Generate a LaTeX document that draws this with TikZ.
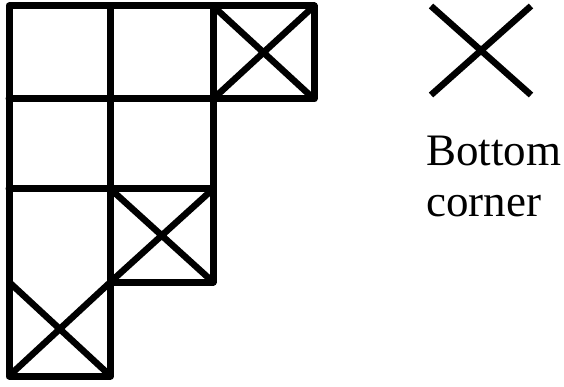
\documentclass[tikz,border=0pt]{standalone}
\usepackage{fontspec}
\setmainfont{Liberation Serif}
\begin{document}
\begin{tikzpicture}[x=1pt,y=-1pt,
  gridline/.style={line width=7pt, line join=round, line cap=round},
  crossline/.style={line width=6.5pt, line cap=butt},
  legendtext/.style={inner sep=0pt, anchor=base west, font=\fontsize{45}{50}\selectfont}]
\useasboundingbox (0,0) rectangle (564,387);
% outline of the staircase grid
\draw[gridline] (9,6) -- (314,6) -- (314,99) -- (213,99) -- (213,282) -- (110.5,282) -- (110.5,376) -- (9,376) -- cycle;
% interior lines
\draw[gridline] (9,98.5) -- (213,98.5);
\draw[gridline] (9,189) -- (213,189);
\draw[gridline] (110.5,6) -- (110.5,282);
\draw[gridline] (213,6) -- (213,99);
% crossed cells
\draw[crossline] (213,6) -- (314,99) (314,6) -- (213,99);
\draw[crossline] (110.5,189) -- (213,282) (213,189) -- (110.5,282);
\draw[crossline] (9,282) -- (110.5,376) (110.5,282) -- (9,376);
% legend
\draw[crossline] (431,6) -- (531,95) (531,6) -- (431,95);
\node[legendtext] (lblA) at (426,166) {Bottom};
\node[legendtext] (lblB) at (426,216) {corner};
\end{tikzpicture}
\end{document}
